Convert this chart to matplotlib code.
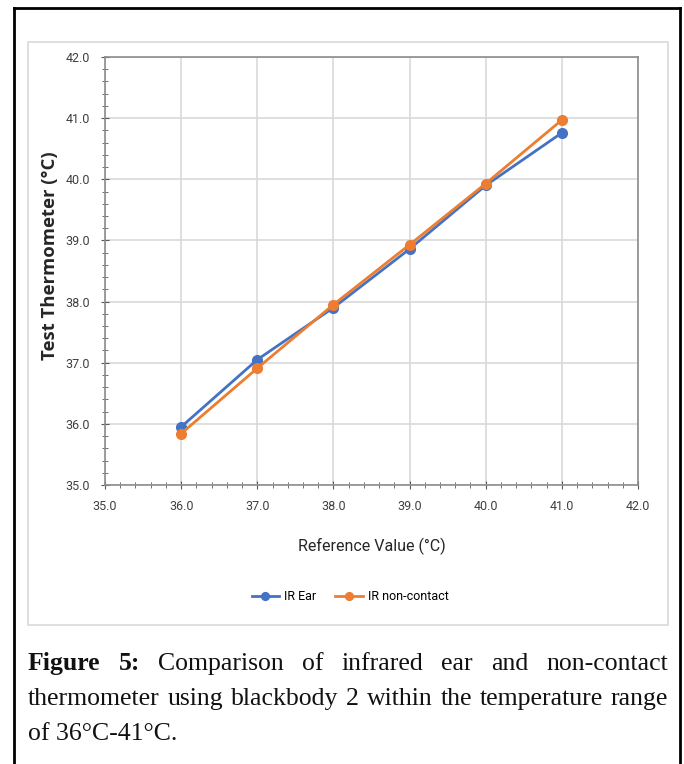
import matplotlib
matplotlib.use("Agg")
import matplotlib.pyplot as plt
from matplotlib.patches import Rectangle
from matplotlib.lines import Line2D
from matplotlib.ticker import MultipleLocator, FormatStrFormatter

# data
reference = [36.0, 37.0, 38.0, 39.0, 40.0, 41.0]
ir_ear = [35.95, 37.05, 37.90, 38.86, 39.90, 40.76]
ir_noncontact = [35.84, 36.91, 37.95, 38.93, 39.93, 40.97]

series_names = ["IR Ear", "IR non-contact"]
series_colors = ["#4472C4", "#ED7D31"]

caption_lines = [
    ["Figure", "5:", "Comparison", "of", "infrared", "ear", "and", "non-contact"],
    ["thermometer", "using", "blackbody", "2", "within", "the", "temperature", "range"],
    ["of 36°C-41°C."],
]

W, H = 684, 764
fig = plt.figure(figsize=(W / 100, H / 100), dpi=100)

tick_font = ["Roboto", "DejaVu Sans"]

# outer black frame (bottom edge runs past the image)
fig.add_artist(Line2D([14 / W, 14 / W], [0, 1 - 8 / H], color="black", lw=2))
fig.add_artist(Line2D([680 / W, 680 / W], [0, 1 - 8 / H], color="black", lw=2))
fig.add_artist(Line2D([14 / W, 680 / W], [1 - 8 / H, 1 - 8 / H], color="black", lw=2))

# light chart-area box
fig.add_artist(Rectangle((28 / W, 1 - 625 / H), 640 / W, 583 / H,
                         transform=fig.transFigure, facecolor="none",
                         edgecolor="#d9d9d9", lw=1.2))

ax = fig.add_axes([105 / W, 1 - 485 / H, 533 / W, 428 / H])
for name, vals, col in zip(series_names, [ir_ear, ir_noncontact], series_colors):
    ax.plot(reference, vals, color=col, lw=2, marker="o", markersize=7,
            label=name, zorder=3)

ax.set_xlim(35, 42)
ax.set_ylim(35, 42)
ax.xaxis.set_major_locator(MultipleLocator(1))
ax.yaxis.set_major_locator(MultipleLocator(1))
ax.xaxis.set_minor_locator(MultipleLocator(0.2))
ax.yaxis.set_minor_locator(MultipleLocator(0.2))
ax.xaxis.set_major_formatter(FormatStrFormatter("%.1f"))
ax.yaxis.set_major_formatter(FormatStrFormatter("%.1f"))
ax.grid(True, which="major", color="#d9d9d9", lw=1.2)
ax.set_axisbelow(True)
for sp in ax.spines.values():
    sp.set_color("#8c8c8c")
    sp.set_linewidth(1.2)
ax.tick_params(which="both", direction="inout", colors="#595959", labelsize=9)
ax.tick_params(which="major", length=6)
ax.tick_params(axis="x", which="major", pad=8)
ax.tick_params(axis="y", which="major", pad=8)
ax.tick_params(which="minor", length=4)
for lab in ax.get_xticklabels() + ax.get_yticklabels():
    lab.set_family(tick_font)
    lab.set_color("#404040")

ax.set_xlabel("Reference Value (°C)", fontsize=11.5, color="#262626",
              family=["Roboto", "DejaVu Sans"])
ax.xaxis.set_label_coords(0.5, -0.124)
ax.set_ylabel("Test Thermometer (°C)", fontsize=13.3, color="#262626",
              family=["Open Sans", "DejaVu Sans"], fontweight="bold")
ax.yaxis.set_label_coords(-0.087, 0.535)

fig.legend(loc="center", bbox_to_anchor=(350 / W, 1 - 597 / H), ncol=2,
           frameon=False, prop={"family": tick_font, "size": 9},
           handlelength=2.2, columnspacing=1.5, handletextpad=0.4,
           markerscale=0.8)

# justified caption
renderer = fig.canvas.get_renderer()
x0, x1 = 28 / W, 668 / W
baselines = [670, 705, 740]
cap_size = 18.5
for i, (words, yb) in enumerate(zip(caption_lines, baselines)):
    y = 1 - yb / H
    texts = []
    for j, w in enumerate(words):
        bold = (i == 0 and j < 2)
        t = fig.text(0, y, w, fontsize=cap_size, family="Liberation Serif",
                     fontweight="bold" if bold else "normal", va="baseline",
                     color="#111111")
        texts.append(t)
    if len(texts) == 1:
        texts[0].set_x(x0)
        continue
    widths = [t.get_window_extent(renderer).width / W for t in texts]
    gap = (x1 - x0 - sum(widths)) / (len(texts) - 1)
    x = x0
    for t, wd in zip(texts, widths):
        t.set_x(x)
        x += wd + gap

fig.savefig("out.png", dpi=100)
